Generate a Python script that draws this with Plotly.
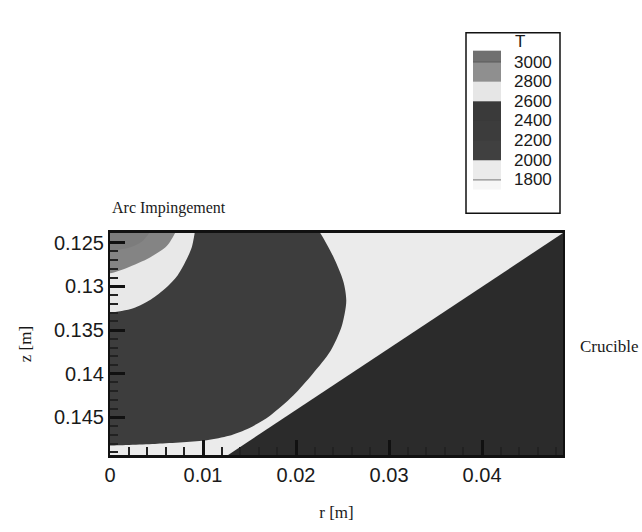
import plotly.graph_objects as go

# ---------------- data ----------------
# axis extents (m)
r_range = [0.0, 0.0487]
z_range = [0.1239, 0.1493]          # z grows downward

# contour levels (legend)
levels = [3000, 2800, 2600, 2400, 2200, 2000, 1800]
# legend band colours: above 3000, 3000-2800, 2800-2600, 2600-2400, 2400-2200, 2200-2000, 2000-1800, below 1800
band_colors = ["#707070", "#8f8f8f", "#e6e6e6", "#3a3a3a", "#3c3c3c", "#404040", "#ebebeb", "#f6f6f6"]

# isotherm T = 2000 K (boundary dark / light); first point continues just above the top edge
iso2000_r = [0.0219, 0.0226, 0.0240, 0.0251, 0.0254, 0.0249, 0.0237, 0.0218, 0.0197, 0.0172, 0.0150, 0.0128, 0.0104, 0.0051, 0.0]
iso2000_z = [0.1229, 0.1239, 0.1266, 0.1295, 0.1317, 0.1346, 0.1374, 0.1400, 0.1425, 0.1448, 0.1462, 0.1471, 0.1476, 0.1480, 0.1482]

# isotherm T = 2600 K
iso2600_r = [0.0092, 0.0091, 0.0088, 0.0082, 0.0073, 0.0060, 0.0044, 0.0025, 0.0]
iso2600_z = [0.1229, 0.1239, 0.1255, 0.1270, 0.1287, 0.1302, 0.1315, 0.1325, 0.1330]

# isotherm T = 2800 K
iso2800_r = [0.0074, 0.0070, 0.0061, 0.0043, 0.0018, 0.0]
iso2800_z = [0.1229, 0.1239, 0.1254, 0.1267, 0.1279, 0.1285]

# isotherm T = 3000 K (small hot spot under the arc)
iso3000_r = [0.0046, 0.0042, 0.0034, 0.0020, 0.0]
iso3000_z = [0.1229, 0.1239, 0.1249, 0.1256, 0.1259]

# crucible wall (solid region)
cru_r = [0.0125, 0.0490, 0.0500, 0.0500]
cru_z = [0.14944, 0.12369, 0.12369, 0.1500]

pad = -0.002   # polygon closure outside the left edge

# ---------------- figure ----------------
fig = go.Figure()

def region(rs, zs, color):
    r = [pad] + rs + [pad]
    z = [zs[0]] + zs + [zs[-1]]
    fig.add_trace(go.Scatter(x=r, y=z, mode="lines", fill="toself",
                             fillcolor=color,
                             line=dict(width=0, color=color, shape="spline", smoothing=0.8),
                             hoverinfo="skip", showlegend=False))

region(iso2000_r, iso2000_z, "#3d3d3d")
region(iso2600_r, iso2600_z, "#e8e8e8")
region(iso2800_r, iso2800_z, "#848484")
region(iso3000_r, iso3000_z, "#7c7c7c")

fig.add_trace(go.Scatter(x=cru_r, y=cru_z, mode="lines", fill="toself",
                         fillcolor="#2b2b2b", line=dict(width=0, color="#2b2b2b"),
                         hoverinfo="skip", showlegend=False))

# ---------------- layout ----------------
L, R, T, B = 110, 563, 233, 468
W, H = 642, 532

def px_x(p):
    return (p - L) / (R - L)

def px_y(p):
    return (B - p) / (B - T)

tickfont = dict(family="Liberation Sans, Arial, sans-serif", size=20, color="#1a1a1a")
serif = dict(family="Liberation Serif, Times New Roman, serif", size=17, color="#1a1a1a")

fig.update_layout(
    width=W, height=H,
    margin=dict(l=L, r=W - R, t=T, b=H - B, pad=0),
    paper_bgcolor="white",
    plot_bgcolor="#ebebeb",
    showlegend=False,
    xaxis=dict(range=r_range, showgrid=False, zeroline=False,
               tickmode="linear", tick0=0, dtick=0.01,
               ticks="inside", ticklen=15, tickwidth=2.5, tickcolor="#111",
               minor=dict(ticks="inside", ticklen=8, tickwidth=1.5, tickcolor="#222",
                          dtick=0.002, tick0=0),
               showline=True, linecolor="#111", linewidth=2.5, mirror=True,
               tickfont=tickfont,
               title=dict(text="r [m]", font=serif, standoff=22)),
    yaxis=dict(range=[z_range[1], z_range[0]], showgrid=False, zeroline=False,
               tickmode="linear", tick0=0.125, dtick=0.005,
               ticks="inside", ticklen=15, tickwidth=2.5, tickcolor="#111",
               minor=dict(ticks="inside", ticklen=8, tickwidth=1.5, tickcolor="#222",
                          dtick=0.001, tick0=0.125),
               showline=True, linecolor="#111", linewidth=2, mirror=True,
               tickfont=tickfont,
               title=dict(text="z [m]", font=serif, standoff=18)),
)

# labels
fig.add_annotation(text="Arc Impingement", xref="paper", yref="paper",
                   x=px_x(110), y=px_y(207), xanchor="left", yanchor="middle",
                   showarrow=False, font=dict(family=serif["family"], size=16, color="#1a1a1a"))
fig.add_annotation(text="Crucible", xref="paper", yref="paper",
                   x=px_x(578), y=px_y(353), xanchor="left", yanchor="middle",
                   showarrow=False, font=dict(family=serif["family"], size=17, color="#1a1a1a"))

# ---------------- legend box ----------------
fig.add_shape(type="rect", xref="paper", yref="paper",
              x0=px_x(466), x1=px_x(560), y0=px_y(212), y1=px_y(21),
              line=dict(color="#111", width=1.5), fillcolor="white", layer="above")

lvl_y = [52 + 20.8 * i for i in range(len(levels))]
edges = [40] + lvl_y + [187]
for i, c in enumerate(band_colors):
    bot = edges[i + 1] + (1 if i < len(band_colors) - 1 else 0)
    fig.add_shape(type="rect", xref="paper", yref="paper",
                  x0=px_x(473), x1=px_x(501), y0=px_y(bot), y1=px_y(edges[i]),
                  line=dict(width=0), fillcolor=c, layer="above")
fig.add_shape(type="line", xref="paper", yref="paper",
              x0=px_x(473), x1=px_x(501), y0=px_y(lvl_y[-1]), y1=px_y(lvl_y[-1]),
              line=dict(color="#777", width=1), layer="above")
fig.add_shape(type="line", xref="paper", yref="paper",
              x0=px_x(473), x1=px_x(501), y0=px_y(lvl_y[0]), y1=px_y(lvl_y[0]),
              line=dict(color="#5a5a5a", width=1), layer="above")

legfont = dict(family="Liberation Sans, Arial, sans-serif", size=17, color="#1a1a1a")
fig.add_annotation(text="T", xref="paper", yref="paper", x=px_x(513), y=px_y(30),
                   xanchor="left", yanchor="middle", showarrow=False, font=legfont)
for lv, yy in zip(levels, lvl_y):
    fig.add_annotation(text=str(lv), xref="paper", yref="paper", x=px_x(512), y=px_y(yy),
                       xanchor="left", yanchor="middle", showarrow=False, font=legfont)

fig.write_html("out.html")
